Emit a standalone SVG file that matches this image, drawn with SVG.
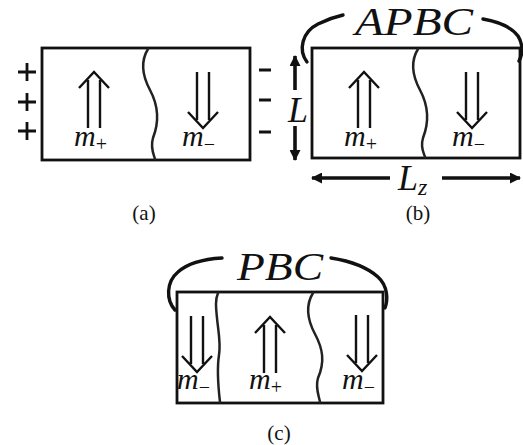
<svg xmlns="http://www.w3.org/2000/svg" width="523" height="445" viewBox="0 0 523 445">
<style>
.box{fill:none;stroke:#111;stroke-width:2.8}
.wall{fill:none;stroke:#222;stroke-width:2.5;stroke-linecap:round}
.darr{fill:none;stroke:#111;stroke-width:2.4}
.sign{stroke:#111;stroke-width:2.8;fill:none}
.arc{fill:none;stroke:#111;stroke-width:3.4;stroke-linecap:round}
.dim{stroke:#111;stroke-width:3.6;fill:none}
.m{font-family:"Liberation Serif","DejaVu Serif",serif;font-style:italic;font-size:30px;fill:#111}
.sub{font-family:"Liberation Serif","DejaVu Serif",serif;font-style:normal;font-size:20px}
.big{font-family:"Liberation Serif","DejaVu Serif",serif;font-style:italic;font-size:40px;fill:#111}
.cap{font-family:"Liberation Serif","DejaVu Serif",serif;font-size:21px;fill:#111}
</style>
<defs>
<marker id="ah" markerWidth="11" markerHeight="11" refX="10" refY="5.5" orient="auto" markerUnits="userSpaceOnUse" viewBox="0 0 11 11">
<path d="M0,0 L11,5.5 L0,11 Z" fill="#111"/>
</marker>
<g id="up">
<path class="darr" d="M-6,56 V8 M6,56 V8 M-15,16 L0,0 L15,16"/>
</g>
<g id="down">
<path class="darr" d="M-6,0 V48 M6,0 V48 M-15,40 L0,56 L15,40"/>
</g>
</defs>

<g id="panel-a">
<rect class="box" x="42" y="48" width="208" height="112"/>
<path class="wall" d="M148,49 C140,62 142,75 150,90 C158,105 160,120 153,138 C150,148 154,155 155,159"/>
<use href="#up" x="94" y="72"/>
<use href="#down" x="203" y="72"/>
<text class="m" x="74" y="146">m<tspan class="sub" dy="5">+</tspan></text>
<text class="m" x="182" y="146">m<tspan class="sub" dy="5">−</tspan></text>
<path class="sign" d="M18,72 H36 M27,63 V81 M18,102 H36 M27,93 V111 M18,131 H36 M27,122 V140"/>
<path class="sign" d="M259,70 H271 M259,100 H271 M259,132 H271"/>
<text class="cap" x="144" y="220" text-anchor="middle">(a)</text>
</g>

<g id="panel-b">
<rect class="box" x="312" y="48" width="208" height="110"/>
<path class="wall" d="M418,49 C410,62 412,75 420,90 C428,105 430,120 423,138 C420,148 424,153 425,157"/>
<use href="#up" x="364" y="72"/>
<use href="#down" x="472" y="72"/>
<text class="m" x="344" y="146">m<tspan class="sub" dy="5">+</tspan></text>
<text class="m" x="452" y="146">m<tspan class="sub" dy="5">−</tspan></text>
<text class="big" x="414" y="35" text-anchor="middle" textLength="118" lengthAdjust="spacingAndGlyphs">APBC</text>
<text class="big" x="298" y="122" text-anchor="middle" style="font-size:36px">L</text>
<text class="big" x="398" y="190" style="font-size:36px">L<tspan style="font-size:24px" dy="5">z</tspan></text>
<text class="cap" x="418" y="220" text-anchor="middle">(b)</text>
</g>

<g id="panel-c">
<rect class="box" x="177" y="292" width="206" height="111"/>
<path class="wall" d="M218,293 C215,300 216,308 217,318 C218,330 221,342 219,355 C217,368 218,385 220,402"/>
<path class="wall" d="M313,293 C305,306 307,319 315,334 C323,349 325,362 318,378 C315,388 319,396 320,402"/>
<use href="#down" x="197" y="316"/>
<use href="#up" x="270" y="317"/>
<use href="#down" x="362" y="315"/>
<text class="m" x="177" y="389">m<tspan class="sub" dy="5">−</tspan></text>
<text class="m" x="249" y="389">m<tspan class="sub" dy="5">+</tspan></text>
<text class="m" x="342" y="389">m<tspan class="sub" dy="5">−</tspan></text>
<text class="big" x="280" y="280" text-anchor="middle" textLength="86" lengthAdjust="spacingAndGlyphs">PBC</text>
<text class="cap" x="279" y="440" text-anchor="middle">(c)</text>
</g>

<g id="connectors">
<path class="arc" d="M307,62 C298,50 302,32 318,24 C326,20 334,17 343,15"/>
<path class="arc" d="M483,19 C500,22 512,28 518,36 C523,44 523,54 519,61"/>
<path class="arc" d="M175,310 C166,300 166,282 178,272 C188,263 205,259 222,258"/>
<path class="arc" d="M331,258 C350,261 368,268 378,277 C388,286 388,300 385,308"/>
<line class="dim" x1="295" y1="90" x2="295" y2="56" marker-end="url(#ah)"/>
<line class="dim" x1="295" y1="126" x2="295" y2="160" marker-end="url(#ah)"/>
<line class="dim" x1="390" y1="178" x2="312" y2="178" marker-end="url(#ah)"/>
<line class="dim" x1="442" y1="178" x2="520" y2="178" marker-end="url(#ah)"/>
</g>
</svg>
